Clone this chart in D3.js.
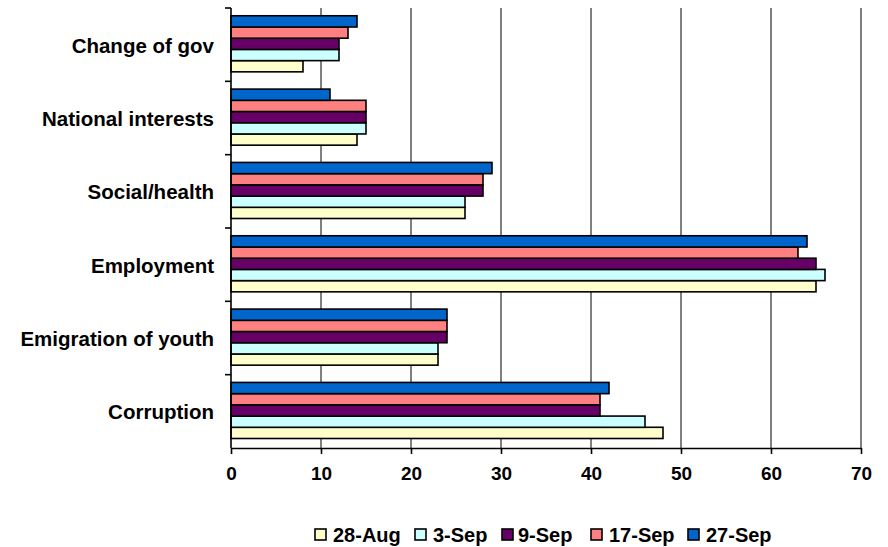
<!DOCTYPE html>
<html>
<head>
<meta charset="utf-8">
<script src="https://cdn.jsdelivr.net/npm/d3@7"></script>
<style>
  body { margin: 0; background: #fff; }
  text { font-family: "Liberation Sans", Arial, sans-serif; font-weight: bold; fill: #000; }
</style>
</head>
<body>
<div id="chart"></div>
<script>
// categories top to bottom
var categories = ["Change of gov", "National interests", "Social/health", "Employment", "Emigration of youth", "Corruption"];
var seriesNames = ["28-Aug", "3-Sep", "9-Sep", "17-Sep", "27-Sep"];
var seriesColors = ["#FFFFCC", "#CCFFFF", "#660066", "#FF8080", "#0066CC"];
var xTicks = [0, 10, 20, 30, 40, 50, 60, 70];

// values per series, same order as categories
var aug28 = [8, 14, 26, 65, 23, 48];
var sep3  = [12, 15, 26, 66, 23, 46];
var sep9  = [12, 15, 28, 65, 24, 41];
var sep17 = [13, 15, 28, 63, 24, 41];
var sep27 = [14, 11, 29, 64, 24, 42];
var seriesValues = [aug28, sep3, sep9, sep17, sep27];

function init() {
    var w = 888, h = 547;
    var left = 231, right = 861, top = 8, bottom = 448;

    var svg = d3.select("#chart").append("svg")
        .attr("width", w)
        .attr("height", h);

    var xScale = d3.scaleLinear().domain([0, 70]).range([left, right]);

    var yScale = d3.scaleBand()
        .domain(categories)
        .range([top, bottom])
        .paddingInner(0);

    // inside a group the last series sits on top
    var yInner = d3.scaleBand()
        .domain(seriesNames.slice().reverse())
        .range([0, yScale.bandwidth()])
        .paddingOuter(0.77)
        .align(0.45);

    // vertical gridlines
    svg.append("g")
        .selectAll("line")
        .data(xTicks.slice(1))
        .enter().append("line")
        .attr("x1", function(d) { return xScale(d); })
        .attr("x2", function(d) { return xScale(d); })
        .attr("y1", top)
        .attr("y2", bottom)
        .attr("stroke", "#000")
        .attr("stroke-width", 1);

    // bars
    var rows = [];
    categories.forEach(function(c, i) {
        seriesNames.forEach(function(s, j) {
            rows.push({cat: c, series: s, value: seriesValues[j][i], color: seriesColors[j]});
        });
    });

    svg.append("g")
        .selectAll("rect")
        .data(rows)
        .enter().append("rect")
        .attr("x", xScale(0))
        .attr("y", function(d) { return yScale(d.cat) + yInner(d.series); })
        .attr("width", function(d) { return xScale(d.value) - xScale(0); })
        .attr("height", yInner.bandwidth())
        .attr("fill", function(d) { return d.color; })
        .attr("stroke", "#000")
        .attr("stroke-width", 1.6);

    // x axis
    var xAxis = d3.axisBottom(xScale)
        .tickValues(xTicks)
        .tickSize(6)
        .tickSizeOuter(0)
        .tickPadding(13);

    var gx = svg.append("g")
        .attr("transform", "translate(0," + bottom + ")")
        .call(xAxis);
    gx.select(".domain").attr("stroke", "#000").attr("stroke-width", 1.6);
    gx.selectAll(".tick line").attr("stroke", "#000").attr("stroke-width", 1.6);
    gx.selectAll(".tick text")
        .style("font-size", "19px")
        .style("font-family", "Liberation Sans, Arial, sans-serif")
        .style("font-weight", "bold");

    // y axis: ticks on group boundaries
    svg.append("line")
        .attr("x1", left).attr("x2", left)
        .attr("y1", top).attr("y2", bottom)
        .attr("stroke", "#000").attr("stroke-width", 1.6);

    svg.append("g")
        .selectAll("line")
        .data(categories)
        .enter().append("line")
        .attr("x1", left - 6)
        .attr("x2", left)
        .attr("y1", function(d) { return yScale(d); })
        .attr("y2", function(d) { return yScale(d); })
        .attr("stroke", "#000")
        .attr("stroke-width", 1.6);

    svg.append("g")
        .selectAll("text")
        .data(categories)
        .enter().append("text")
        .attr("x", 214)
        .attr("y", function(d) { return yScale(d) + yScale.bandwidth() / 2 + 8; })
        .attr("text-anchor", "end")
        .style("font-size", "20.5px")
        .text(function(d) { return d; });

    // legend
    var legendBoxX = [315, 415, 502, 591, 688];
    var legendTextX = [333, 433, 518, 609, 706];
    var legend = svg.append("g")
        .selectAll("g")
        .data(seriesNames)
        .enter().append("g");

    legend.append("rect")
        .attr("x", function(d, i) { return legendBoxX[i]; })
        .attr("y", 529)
        .attr("width", 11).attr("height", 11)
        .attr("fill", function(d, i) { return seriesColors[i]; })
        .attr("stroke", "#000")
        .attr("stroke-width", 1.6);

    legend.append("text")
        .attr("x", function(d, i) { return legendTextX[i]; })
        .attr("y", 542)
        .style("font-size", "20px")
        .text(function(d) { return d; });
}

window.onload = init;
</script>
</body>
</html>
